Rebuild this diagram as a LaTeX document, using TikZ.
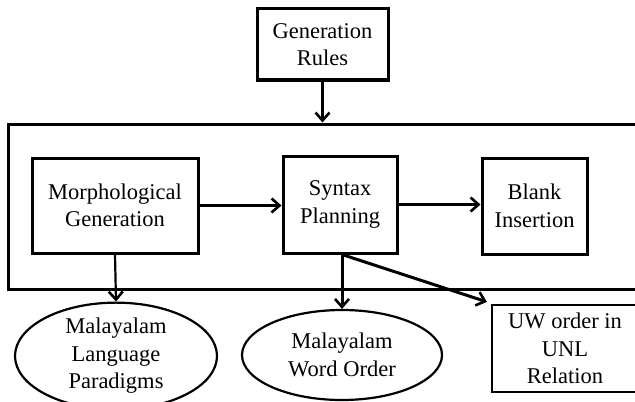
\documentclass[tikz,border=0pt]{standalone}
\usepackage{fontspec}
\setmainfont{Liberation Serif}
\usepackage{tikz}
\usetikzlibrary{shapes,arrows,positioning,calc,arrows.meta}

\begin{document}
\begin{tikzpicture}[x=0.5pt, y=-0.5pt,
    blockbox/.style={draw, line width=1.5pt, inner sep=0pt, align=center, font=\fontsize{11.25}{13.75}\selectfont},
    ovalnode/.style={ellipse, draw, line width=1.1pt, inner sep=0pt, align=center, font=\fontsize{11.25}{13.75}\selectfont},
    flow/.style={-{Straight Barb[length=4pt, width=7pt, line width=1.3pt]}, line width=1.5pt}]
    \useasboundingbox (0,0) rectangle (635,401);
    \clip (0,0) rectangle (635,401);
    \node[blockbox, minimum width=65.5pt, minimum height=35.5pt] (gen) at (322.5,44.5) {Generation\\Rules};
    \node[draw, line width=1.5pt, minimum width=326pt, minimum height=82.5pt] (frame) at (334,206.5) {};
    \node[blockbox, minimum width=83pt, minimum height=47.5pt] (morph) at (115,205.5) {Morphological\\Generation};
    \node[blockbox, minimum width=57pt, minimum height=48.5pt] (syntax) at (340,204.5) {Syntax\\Planning};
    \node[blockbox, minimum width=52.5pt, minimum height=48pt] (blank) at (534.5,206) {Blank\\Insertion};
    \node[ovalnode, minimum width=101pt, minimum height=51pt] (paradigm) at (116,356) {Malayalam\\Language\\Paradigms};
    \node[ovalnode, minimum width=100pt, minimum height=45pt] (wordorder) at (342,355) {Malayalam\\Word Order};
    \node[blockbox, line width=1.1pt, minimum width=73pt, minimum height=43.5pt] (uworder) at (565,348.5) {UW order in\\UNL\\Relation};

    \draw[flow] (gen.south) -- (gen.south |- frame.north);
    \draw[flow] (morph.east) -- (morph.east -| syntax.west);
    \draw[flow] (syntax.east) -- (syntax.east -| blank.west);
    \draw[flow, line width=1.1pt] (morph.south) -- (paradigm.north);
    \draw[flow] (wordorder.north |- syntax.south) -- (wordorder.north);
    \draw[flow] (wordorder.north |- syntax.south) -- ([xshift=-2pt, yshift=1pt]uworder.north west);
\end{tikzpicture}
\end{document}
